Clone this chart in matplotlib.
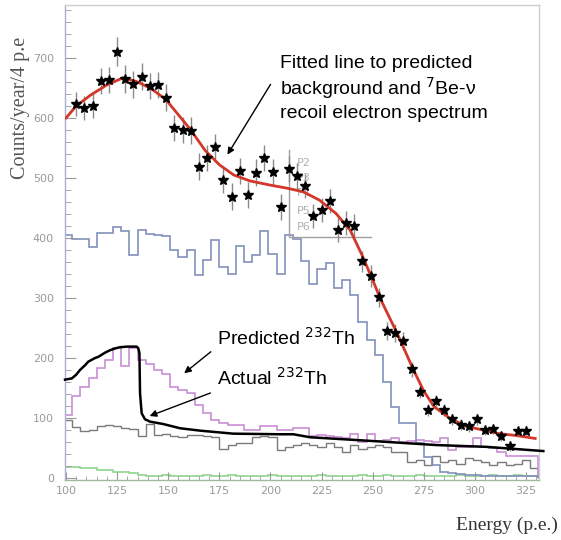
import numpy as np
import matplotlib.pyplot as plt
from matplotlib.patches import FancyArrowPatch
from matplotlib.ticker import MultipleLocator

# measured spectrum (4 p.e. bins)
energy = np.arange(105, 326, 4)
counts = [623, 616, 620, 662, 663, 710, 665, 656, 669, 653,
          655, 634, 583, 580, 579, 519, 533, 551, 497, 469,
          512, 472, 509, 533, 510, 452, 515, 503, 486, 436,
          447, 461, 414, 425, 420, 361, 337, 301, 245, 241,
          229, 181, 144, 113, 129, 113, 98, 89, 86, 98,
          80, 82, 70, 53, 79, 79]
errors = [20, 20, 20, 22, 22, 24, 24, 22, 22, 22,
          22, 22, 22, 22, 22, 22, 22, 22, 22, 22,
          22, 22, 22, 22, 22, 22, 22, 22, 20, 20,
          20, 20, 20, 20, 20, 18, 18, 16, 15, 15,
          15, 12, 11, 10, 10, 10, 9, 9, 9, 9,
          8, 8, 8, 8, 8, 8]

# background histograms
edges = np.arange(99, 332, 4)
bkg_blue = [405, 399, 399, 385, 408, 408, 418, 411, 372, 413,
            407, 405, 403, 380, 369, 380, 338, 363, 397, 352,
            340, 386, 360, 372, 411, 374, 340, 405, 399, 362,
            324, 349, 358, 316, 330, 305, 260, 230, 205, 160,
            119, 91, 91, 58, 35, 22, 10, 8, 6, 5,
            5, 4, 4, 4, 3, 3, 3, 3]
th_pred = [105, 136, 152, 166, 183, 197, 216, 186, 216, 197,
           190, 180, 174, 152, 147, 141, 122, 108, 97, 91,
           88, 88, 80, 80, 86, 86, 80, 80, 83, 83,
           70, 72, 70, 68, 66, 74, 60, 74, 62, 64,
           66, 60, 62, 64, 62, 60, 66, 47, 52, 52,
           66, 52, 50, 44, 36, 36, 36, 36]
bkg_gray = [97, 85, 78, 80, 86, 88, 86, 84, 82, 70,
            90, 72, 73, 70, 68, 72, 72, 70, 68, 49,
            55, 58, 58, 68, 70, 68, 47, 52, 55, 58,
            55, 52, 58, 52, 44, 55, 49, 52, 55, 52,
            44, 44, 27, 30, 22, 36, 27, 30, 24, 33,
            30, 27, 22, 27, 22, 24, 30, 16]
bkg_green = [19, 19, 16, 16, 13, 13, 10, 10, 8, 5,
             4, 4, 5, 4, 4, 3, 4, 5, 4, 4,
             5, 4, 4, 3, 4, 5, 4, 4, 3, 4,
             4, 5, 4, 3, 4, 4, 5, 4, 4, 5,
             4, 3, 4, 5, 4, 4, 3, 4, 5, 4,
             4, 4, 5, 4, 4, 5, 4, 4]

# fitted curve
fit_e = [100, 105, 112, 120, 128, 135, 142, 149, 155, 161, 168, 175, 182,
         190, 200, 208, 216, 224, 232, 239, 245, 250, 254, 262, 270, 275,
         280, 288, 296, 304, 312, 320, 329.5]
fit_y = [600, 620, 638, 655, 667, 660, 648, 630, 605, 580, 546, 522, 505,
         495, 488, 483, 477, 463, 441, 413, 370, 330, 297, 241, 180, 145,
         119, 99, 86, 80, 74, 71, 66]

# actual 232Th
act_e = [99.5, 102.8, 104.9, 106.8, 109.3, 110.9, 114.2, 115.8, 119.1, 121.5,
         124.0, 126.4, 129.7, 134.6, 135.4, 135.9, 136.2, 137.0, 138.6, 141.1,
         147.6, 155.8, 165.6, 181.8, 204.7, 211.2, 219.4, 248.7, 281.3, 305.8,
         333.5]
act_y = [164, 166, 172, 180, 188, 194, 200, 202, 209, 213,
         216, 218, 219, 219, 216, 208, 141, 108, 98, 94,
         90, 83, 79, 74, 73, 73, 68, 62, 55, 52,
         45]

# leftover legend labels
p_labels = ['P2', 'P3', 'P4', 'P5', 'P6']
p_y = [525, 500, 475, 445, 418]

fig = plt.figure(figsize=(5.61, 5.40), dpi=100)
ax = fig.add_axes([0.1159, 0.111, 0.845, 0.8796])

ax.stairs(bkg_green, edges, color='#8fd48f', lw=1.2)
ax.stairs(bkg_gray, edges, color='#7a7a7a', lw=1.0)
ax.stairs(th_pred, edges, color='#c98fd6', lw=1.2)
ax.stairs(bkg_blue, edges, color='#8290bb', lw=1.2)

ax.errorbar(energy, counts, yerr=errors, fmt='none', ecolor='#8a8a8a', elinewidth=1.0, zorder=3)
ax.plot(fit_e, fit_y, color='#d2372a', lw=2.0, zorder=4)
ax.plot(energy, counts, linestyle='none', marker='*', color='black', markersize=7, zorder=5)
ax.plot(act_e, act_y, color='black', lw=1.8, zorder=4, clip_on=False)

# P legend remnant
ax.plot([209, 209, 249], [547, 402, 402], color='#a0a0a0', lw=1.0, zorder=2)
for lab, yy in zip(p_labels, p_y):
    ax.text(213, yy, lab, color='#b0b0b0', fontsize=8, va='center', ha='left')

ax.set_xlim(99.5, 331.4)
ax.set_ylim(-3.3, 788)

ax.xaxis.set_major_locator(MultipleLocator(25))
ax.xaxis.set_minor_locator(MultipleLocator(5))
ax.yaxis.set_major_locator(MultipleLocator(100))
ax.yaxis.set_minor_locator(MultipleLocator(20))
ax.set_yticks([0, 100, 200, 300, 400, 500, 600, 700])
ax.tick_params(which='both', direction='in', colors='#999999', labelsize=8,
               top=False, right=False)
ax.tick_params(axis='y', which='major', length=8, pad=8)
ax.tick_params(axis='y', which='minor', length=4)
ax.tick_params(axis='x', which='major', length=6, pad=4)
ax.tick_params(axis='x', which='minor', length=3)
for lab in ax.get_xticklabels() + ax.get_yticklabels():
    lab.set_color('#9a9a9a')

ax.spines['left'].set_color('#aab2d2')
ax.spines['bottom'].set_color('#9fb89f')
ax.spines['top'].set_color('#cfcfcf')
ax.spines['right'].set_color('#cfcfcf')
for s in ax.spines.values():
    s.set_linewidth(1.0)

txt_font = ['Liberation Sans', 'DejaVu Sans']
fig.text(280 / 561, 1 - 63 / 540, 'Fitted line to predicted', fontsize=14,
         family=txt_font, va='center', ha='left')
fig.text(280 / 561, 1 - 88 / 540, 'background and $^{7}$Be-\u03bd', fontsize=14,
         family=txt_font, va='center', ha='left')
fig.text(280 / 561, 1 - 113 / 540, 'recoil electron spectrum', fontsize=14,
         family=txt_font, va='center', ha='left')
fig.text(217 / 561, 1 - 338 / 540, 'Predicted $^{232}$Th', fontsize=14,
         family=txt_font, va='center', ha='left')
fig.text(217 / 561, 1 - 378 / 540, 'Actual $^{232}$Th', fontsize=14,
         family=txt_font, va='center', ha='left')


def fig_arrow(x0, y0, x1, y1):
    fig.patches.append(FancyArrowPatch(
        (x0 / 561, 1 - y0 / 540), (x1 / 561, 1 - y1 / 540),
        transform=fig.transFigure, arrowstyle='-|>', mutation_scale=10,
        color='black', lw=1.0))


fig_arrow(272, 82, 226, 157)
fig_arrow(213, 350, 182, 375)
fig_arrow(213, 392, 147, 417)

fig.text(21 / 561, 1 - 108 / 540, 'Counts/year/4 p.e', rotation=90, fontsize=14.5,
         family=['Liberation Serif', 'DejaVu Serif'], color='#555555',
         va='center', ha='center')
fig.text(507 / 561, 1 - 525 / 540, 'Energy (p.e.)', fontsize=14,
         family=['Liberation Serif', 'DejaVu Serif'], color='#333333',
         va='center', ha='center')

fig.savefig('out.png', dpi=100)
